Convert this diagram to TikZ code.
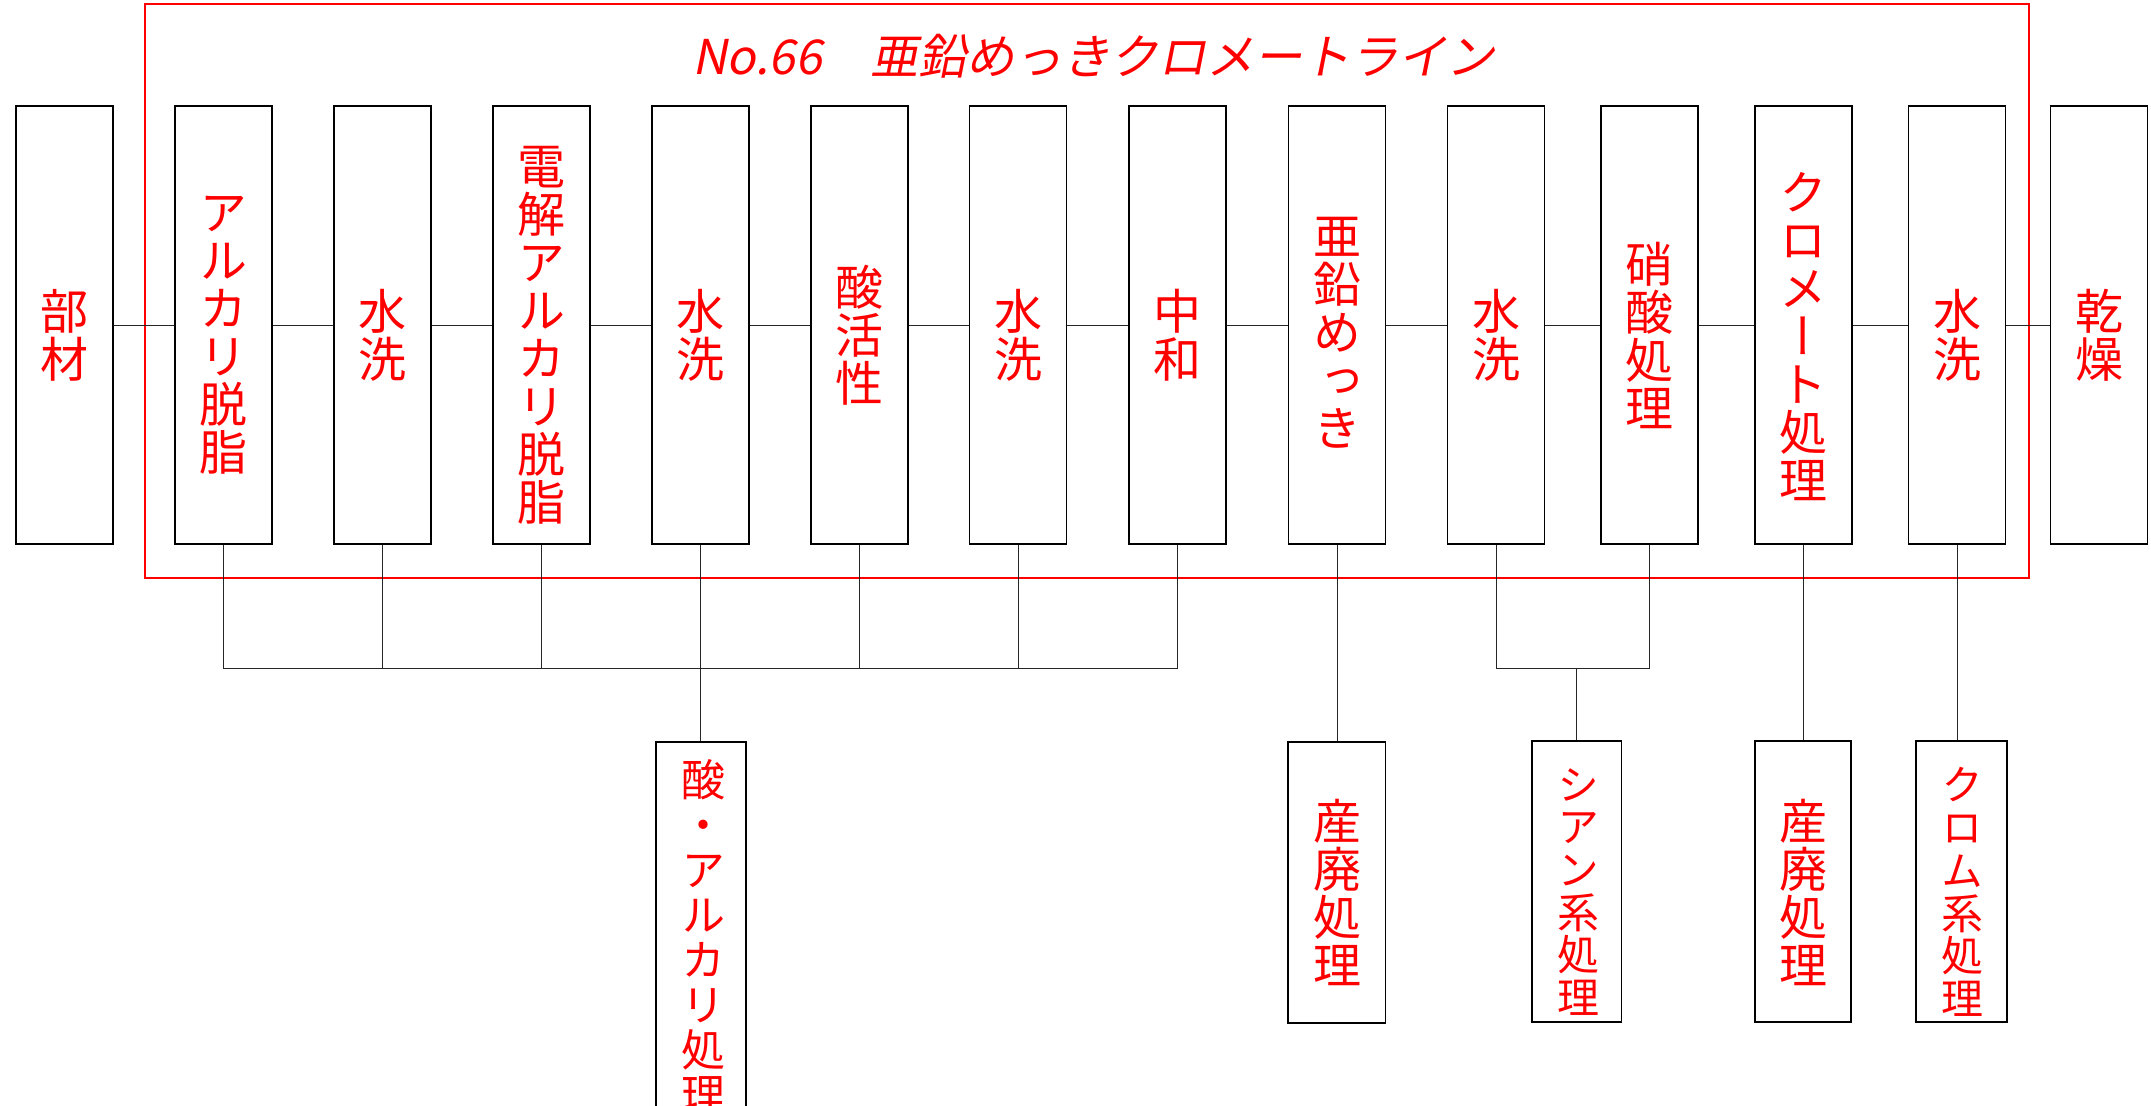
\documentclass[tikz,border=0pt]{standalone}
\usepackage{fontspec}
\newfontfamily\jpv[RawFeature=+vert]{Noto Sans CJK JP}
\newfontfamily\jpt[FakeSlant=0.2]{Noto Sans CJK JP}
\begin{document}
\begin{tikzpicture}[x=1pt,y=-1pt,
  box/.style={draw=black, line width=1.8pt, minimum width=97pt, minimum height=437.5pt, inner sep=0pt, fill=white},
  lowbox/.style={draw=black, line width=1.8pt, inner sep=0pt, fill=white},
  lbl/.style={text=red, align=center, inner sep=0pt, font=\jpv\fontsize{48}{48}\selectfont},
  lbls/.style={text=red, align=center, inner sep=0pt, font=\jpv\fontsize{42}{42.7}\selectfont},
  lblm/.style={text=red, align=center, inner sep=0pt, font=\jpv\fontsize{44}{45}\selectfont},
  conn/.style={draw=black!85, line width=1pt},
  frame/.style={draw=red, line width=2.2pt, inner sep=0pt},
  titlestyle/.style={text=red, inner sep=0pt, font=\jpt\fontsize{48}{48}\selectfont}]
\useasboundingbox (0,0) rectangle (2151,1105);
% red frame
\node[frame, minimum width=1884pt, minimum height=574pt, anchor=north west] (frm) at (144,2.8) {};
\node[titlestyle, anchor=base west] (title) at (692,75) {No.66　亜鉛めっきクロメートライン};
% top boxes
\node[box] (b1) at (64.3,325) {};
\node[box] (b2) at (223.5,325) {};
\node[box] (b3) at (382.5,325) {};
\node[box] (b4) at (541.5,325) {};
\node[box] (b5) at (700.5,325) {};
\node[box] (b6) at (859.5,325) {};
\node[box] (b7) at (1018,325) {};
\node[box] (b8) at (1177.5,325) {};
\node[box] (b9) at (1337,325) {};
\node[box] (b10) at (1496,325) {};
\node[box] (b11) at (1649.5,325) {};
\node[box] (b12) at (1803.5,325) {};
\node[box] (b13) at (1957,325) {};
\node[box] (b14) at (2099,325) {};
% top labels
\node[lbl] (t1) at (64.3,335) {部\\材};
\node[lbl] (t2) at (223.5,335) {ア\\ル\\カ\\リ\\脱\\脂};
\node[lbl] (t3) at (382.5,335) {水\\洗};
\node[lbl] (t4) at (541.5,335) {電\\解\\ア\\ル\\カ\\リ\\脱\\脂};
\node[lbl] (t5) at (700.5,335) {水\\洗};
\node[lbl] (t6) at (859.5,335) {酸\\活\\性};
\node[lbl] (t7) at (1018,335) {水\\洗};
\node[lbl] (t8) at (1177.5,335) {中\\和};
\node[lbl] (t9) at (1337,333) {亜\\鉛\\め\\っ\\き};
\node[lbl] (t10) at (1496,335) {水\\洗};
\node[lbl] (t11) at (1649.5,335) {硝\\酸\\処\\理};
\node[lbl] (t12) at (1803.5,337) {ク\\ロ\\メ\\ー\\ト\\処\\理};
\node[lbl] (t13) at (1957,335) {水\\洗};
\node[lbl] (t14) at (2099,335) {乾\\燥};
% bottom boxes
\node[lowbox, minimum width=90pt, minimum height=380pt] (c1) at (701,932) {};
\node[lowbox, minimum width=97.5pt, minimum height=280.6pt] (c2) at (1336.75,882.3) {};
\node[lowbox, minimum width=89.5pt, minimum height=281pt] (c3) at (1576.75,881.5) {};
\node[lowbox, minimum width=96pt, minimum height=281pt] (c4) at (1803,881.5) {};
\node[lowbox, minimum width=91pt, minimum height=281pt] (c5) at (1961.25,881.5) {};
% bottom labels
\node[lblm, anchor=north] (u1) at (703,759) {酸\\・\\ア\\ル\\カ\\リ\\処\\理};
\node[lbl] (u2) at (1337,892) {産\\廃\\処\\理};
\node[lbls] (u3) at (1578,892) {シ\\ア\\ン\\系\\処\\理};
\node[lbl] (u4) at (1803,892) {産\\廃\\処\\理};
\node[lbls] (u5) at (1962,892) {ク\\ロ\\ム\\系\\処\\理};
% horizontal chain
\foreach \a/\b in {b1/b2,b2/b3,b3/b4,b4/b5,b5/b6,b6/b7,b7/b8,b8/b9,b9/b10,b10/b11,b11/b12,b12/b13,b13/b14}
  \draw[conn] (\a.east) -- (\b.west);
% collecting bus
\coordinate (bus) at (0,668);
\draw[conn] (b2.south) |- (bus -| b8.south) -- (b8.south);
\foreach \a in {b3,b4,b6,b7}
  \draw[conn] (\a.south) -- (\a.south |- bus);
\draw[conn] (b5.south) -- (b5.south |- c1.north);
\draw[conn] (b9.south) -- (b9.south |- c2.north);
\draw[conn] (b10.south) |- (bus -| b11.south) -- (b11.south);
\draw[conn] (c3.north) -- (c3.north |- bus);
\draw[conn] (b12.south) -- (b12.south |- c4.north);
\draw[conn] (b13.south) -- (b13.south |- c5.north);
\end{tikzpicture}
\end{document}
